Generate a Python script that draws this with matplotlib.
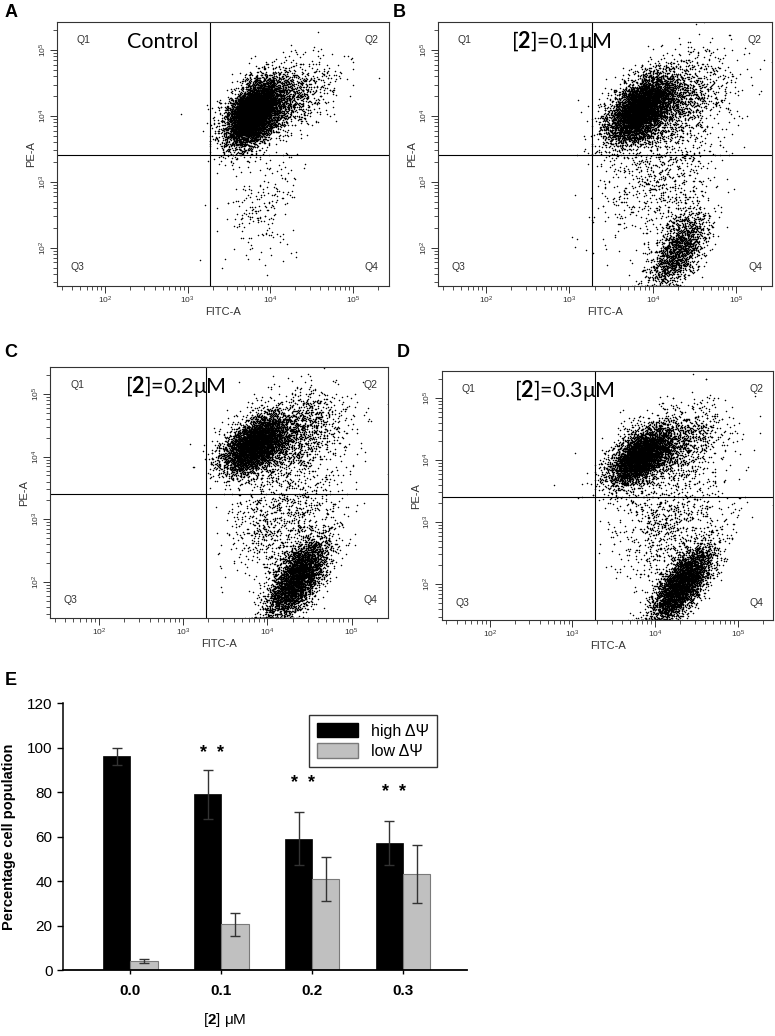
import numpy as np
import matplotlib
matplotlib.use("Agg")
import matplotlib.pyplot as plt
from matplotlib.ticker import LogLocator, LogFormatterSciNotation, NullFormatter
from matplotlib.patches import Patch

plt.rcParams['font.family'] = ['Liberation Sans', 'DejaVu Sans']
plt.rcParams['mathtext.fontset'] = 'custom'
plt.rcParams['mathtext.rm'] = 'Lato'
plt.rcParams['mathtext.bf'] = 'Lato:bold'
plt.rcParams['mathtext.sf'] = 'Liberation Sans:bold'

###########################################
####   DATA   #############################
###########################################

# flow panels: populations, in log10 units
# (count, centre x, centre y, spread x, spread y, correlation)
panel_names = ['A', 'B', 'C', 'D']
panel_titles = ['Control', r'[$\mathbf{2}$]=0.1μM', r'[$\mathbf{2}$]=0.2μM', r'[$\mathbf{2}$]=0.3μM']
clusters_A = [(7000, 3.80, 4.05, 0.16, 0.24, 0.45),
              (1500, 4.10, 4.20, 0.32, 0.30, 0.50),
              (220, 3.90, 2.70, 0.25, 0.50, 0.20)]
clusters_B = [(5500, 3.85, 4.10, 0.19, 0.25, 0.50),
              (1700, 4.20, 4.20, 0.35, 0.35, 0.40),
              (700, 4.10, 3.00, 0.35, 0.45, 0.30),
              (1700, 4.30, 1.95, 0.17, 0.30, 0.60)]
clusters_C = [(4500, 3.85, 4.20, 0.18, 0.22, 0.50),
              (2000, 4.20, 4.30, 0.35, 0.35, 0.40),
              (900, 4.20, 3.00, 0.35, 0.45, 0.30),
              (4000, 4.35, 2.05, 0.18, 0.32, 0.65)]
clusters_D = [(4000, 3.82, 4.05, 0.18, 0.22, 0.55),
              (1600, 4.15, 4.20, 0.33, 0.33, 0.45),
              (800, 4.20, 3.00, 0.35, 0.45, 0.30),
              (4000, 4.32, 2.00, 0.18, 0.30, 0.70)]
panel_clusters = [clusters_A, clusters_B, clusters_C, clusters_D]
gate_x = 10 ** 3.27
gate_y = 10 ** 3.40
log_lim = (1.42, 5.43)

# bar panel
doses = ['0.0', '0.1', '0.2', '0.3']
high_psi = [96, 79, 59, 57]
high_err = [4, 11, 12, 10]
low_psi = [4, 20.5, 41, 43]
low_err = [1, 5, 10, 13]
star_y = [None, 97.5, 84, 80]

###########################################
####   FLOW PLOTS   #######################
###########################################

fig = plt.figure(figsize=(7.75, 10.36), dpi=100)

axes_pos = [[0.0735, 0.724, 0.428, 0.255],
            [0.565, 0.724, 0.431, 0.255],
            [0.0645, 0.4035, 0.436, 0.242],
            [0.570, 0.4015, 0.428, 0.240]]
letter_pos = [(0.006, 0.988), (0.507, 0.988), (0.006, 0.660), (0.512, 0.660)]
title_x = [0.32, 0.37, 0.37, 0.37]

rng = np.random.default_rng(7)
for k in range(4):
    ax = fig.add_axes(axes_pos[k])
    xs, ys = [], []
    for n, cx, cy, sx, sy, r in panel_clusters[k]:
        cov = [[sx * sx, r * sx * sy], [r * sx * sy, sy * sy]]
        pts = rng.multivariate_normal([cx, cy], cov, n)
        xs.append(pts[:, 0])
        ys.append(pts[:, 1])
    xs = np.clip(np.concatenate(xs), log_lim[0] + 0.004, log_lim[1] - 0.004)
    ys = np.clip(np.concatenate(ys), log_lim[0] + 0.004, log_lim[1] - 0.004)
    ax.plot(10 ** xs, 10 ** ys, 'o', color='black', ms=1.1, mew=0)

    ax.set_xscale('log')
    ax.set_yscale('log')
    ax.set_xlim(10 ** log_lim[0], 10 ** log_lim[1])
    ax.set_ylim(10 ** log_lim[0], 10 ** log_lim[1])
    ax.axvline(gate_x, color='black', lw=0.8)
    ax.axhline(gate_y, color='black', lw=0.8)
    for loc in [ax.xaxis, ax.yaxis]:
        loc.set_major_locator(LogLocator(base=10, numticks=10))
        loc.set_minor_locator(LogLocator(base=10, subs=np.arange(2, 10), numticks=10))
        loc.set_major_formatter(LogFormatterSciNotation())
        loc.set_minor_formatter(NullFormatter())
    ax.tick_params(which='major', length=5, width=0.7, labelsize=6, pad=1, colors='#333333')
    ax.tick_params(which='minor', length=3, width=0.6, colors='#333333')
    plt.setp(ax.get_yticklabels(), rotation=90, va='center')
    for s in ax.spines.values():
        s.set_linewidth(0.8)
        s.set_color('#333333')
    ax.set_xlabel('FITC-A', fontsize=8, labelpad=1, color='#333333')
    ax.set_ylabel('PE-A', fontsize=8, labelpad=1, color='#333333')

    ax.text(0.06, 0.93, 'Q1', transform=ax.transAxes, fontsize=7.5, color='#333333', va='center')
    ax.text(0.97, 0.93, 'Q2', transform=ax.transAxes, fontsize=7.5, color='#333333', va='center', ha='right')
    ax.text(0.04, 0.07, 'Q3', transform=ax.transAxes, fontsize=7.5, color='#333333', va='center')
    ax.text(0.97, 0.07, 'Q4', transform=ax.transAxes, fontsize=7.5, color='#333333', va='center', ha='right')
    ax.text(title_x[k], 0.925, panel_titles[k], transform=ax.transAxes,
            fontsize=15.5, family='Lato', va='center', ha='center')
    fig.text(letter_pos[k][0], letter_pos[k][1], panel_names[k], fontsize=13,
             fontweight='bold', va='center')

###########################################
####   BAR CHART   ########################
###########################################

axe = fig.add_axes([0.0813, 0.0637, 0.521, 0.2577])
xpos = np.arange(len(doses))
w = 0.3
err_kw = dict(ecolor='#333333', elinewidth=1.0, capsize=3.5, capthick=1.0)
axe.bar(xpos - w / 2, high_psi, w, yerr=high_err, color='black', edgecolor='black',
        lw=0.5, error_kw=err_kw)
axe.bar(xpos + w / 2, low_psi, w, yerr=low_err, color='#c0c0c0', edgecolor='#7a7a7a',
        lw=0.8, error_kw=err_kw)
for i in range(len(doses)):
    if star_y[i] is not None:
        axe.text(xpos[i] - 0.1, star_y[i], '*  *', ha='center', va='center',
                 fontsize=13, fontweight='bold')

axe.set_xlim(-0.74, 3.70)
axe.set_ylim(0, 120)
axe.set_yticks(range(0, 121, 20))
axe.set_xticks(xpos)
axe.set_xticklabels(doses, fontweight='bold')
axe.tick_params(axis='y', labelsize=11, length=4, width=1)
axe.tick_params(axis='x', labelsize=11, length=3, width=1, pad=7)
axe.spines['top'].set_visible(False)
axe.spines['right'].set_visible(False)
axe.spines['left'].set_linewidth(1.1)
axe.spines['bottom'].set_linewidth(1.3)
axe.set_ylabel('Percentage cell population', fontsize=10.5, fontweight='bold', labelpad=8)
axe.set_xlabel(r'[$\mathsf{2}$] μM', fontsize=11, va='center')
axe.xaxis.set_label_coords(0.40, -0.187)

handles = [Patch(facecolor='black', edgecolor='black', label='high ΔΨ'),
           Patch(facecolor='#c0c0c0', edgecolor='#7a7a7a', label='low ΔΨ')]
axe.legend(handles=handles, loc='upper right', bbox_to_anchor=(0.946, 0.985),
           fontsize=11.5, frameon=True, fancybox=False, edgecolor='#333333',
           framealpha=1, handlelength=2.6, handleheight=1.0, borderpad=0.5,
           labelspacing=0.3)
fig.text(0.006, 0.343, 'E', fontsize=13, fontweight='bold', va='center')

fig.savefig('out.png', dpi=100)
